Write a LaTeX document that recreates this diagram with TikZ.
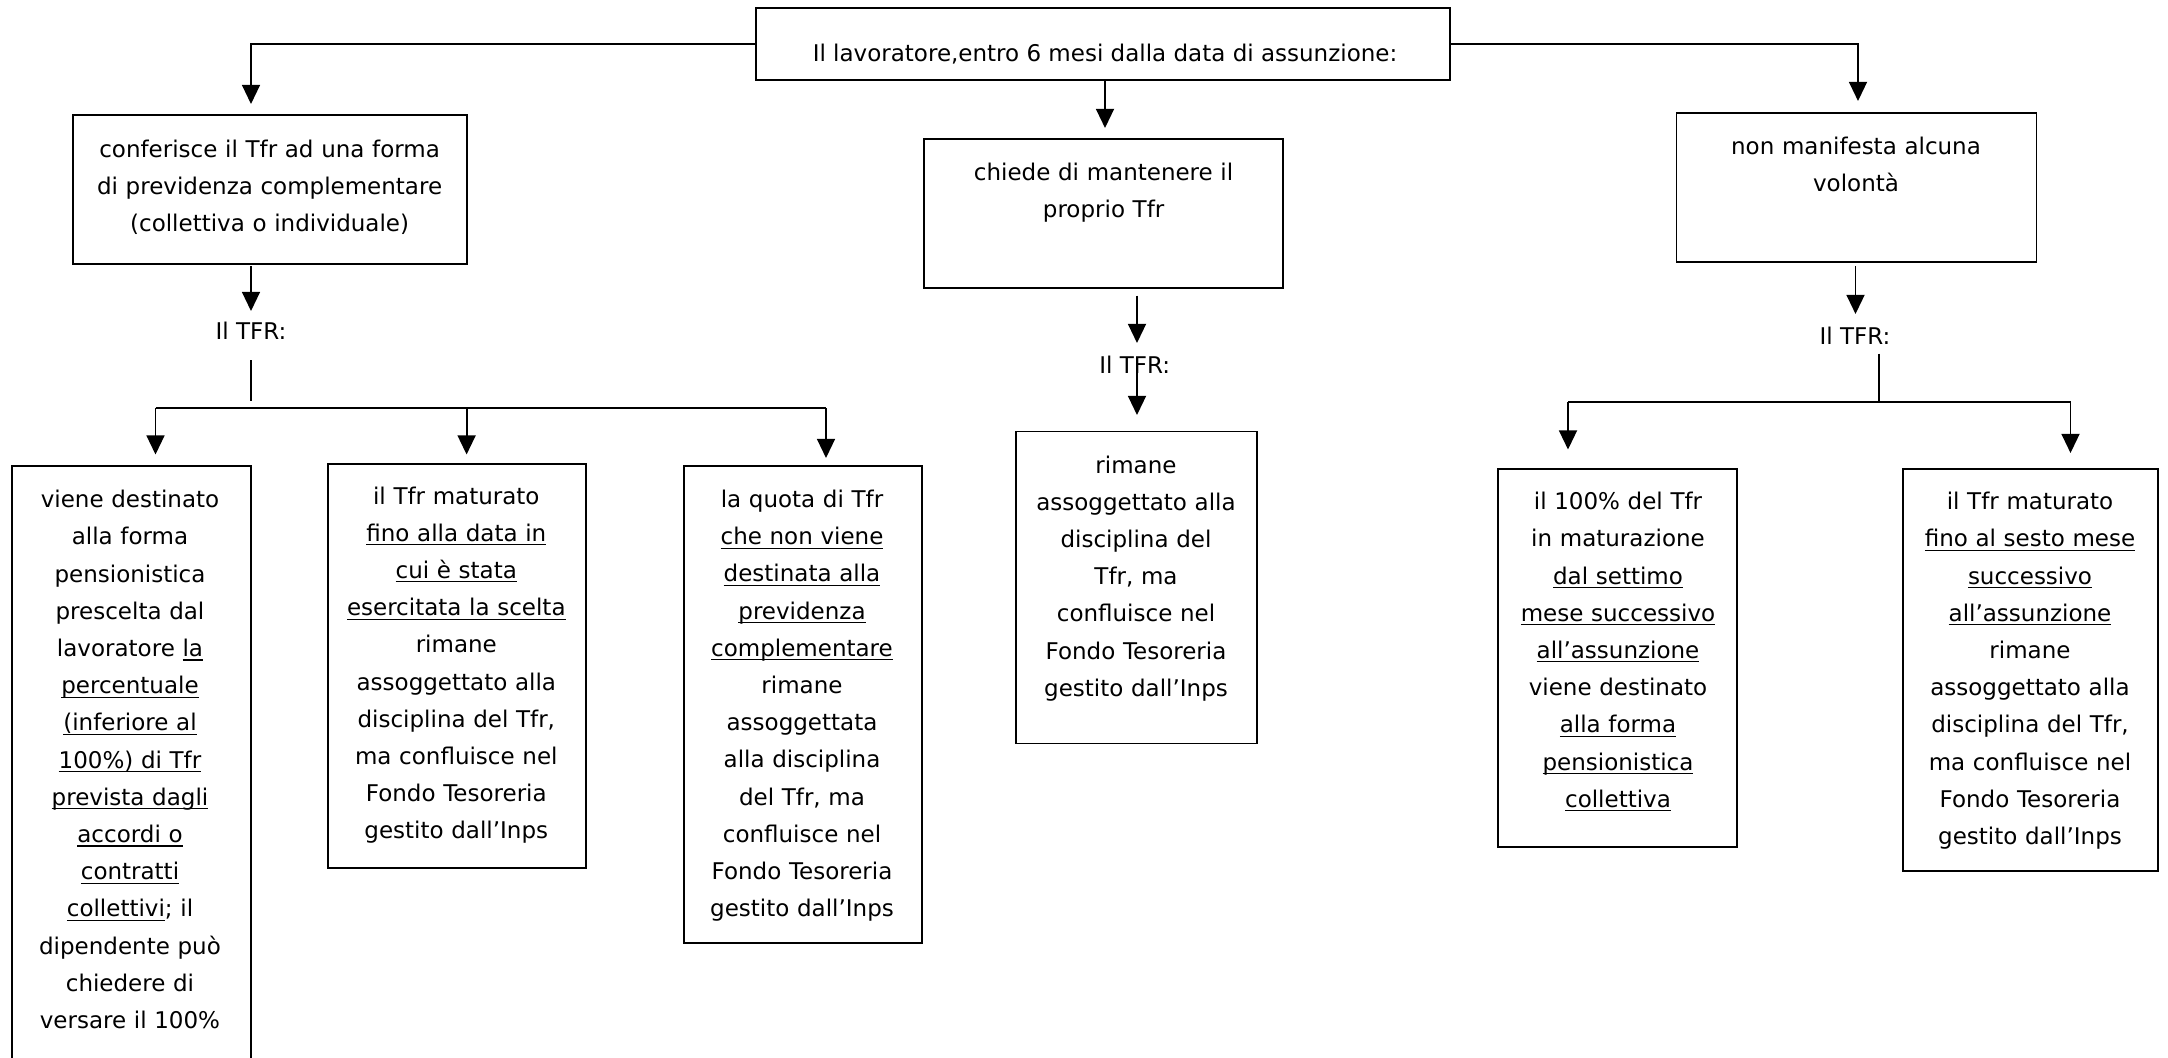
\documentclass[tikz,border=0pt]{standalone}
\usepackage{fontspec}
\setmainfont{DejaVu Sans}
\usetikzlibrary{arrows.meta}
\newcommand\fs{\fontsize{11.5}{18.6}\selectfont}
\newcommand\myul[1]{\leavevmode\setbox0\hbox{#1}\rlap{\rule[-2pt]{\wd0}{0.55pt}}\box0}
\tikzset{
  bx/.style 2 args={draw, line width=0.95pt, inner sep=0pt, minimum width=#1*0.5pt, minimum height=#2*0.5pt},
  txt/.style={inner sep=0pt, font=\fs, anchor=base},
  mtxt/.style={txt, text width=230pt, align=center},
  arr/.style={line width=0.9pt, -{Triangle[length=9.6pt,width=9pt]}},
  ln/.style={line width=0.9pt},
}
\begin{document}
\begin{tikzpicture}[x=0.5pt,y=-0.5pt]
\useasboundingbox (0,0) rectangle (2168,1057);
\clip (0,0) rectangle (2168,1057);
\fill[white] (0,0) rectangle (2168,1057);

% boxes
\node[bx={694}{72}] (top) at (1103,44) {};
\node[bx={394}{149}] (A) at (269.6,189.5) {};
\node[bx={359.4}{149}] (M) at (1103.3,213.5) {};
\node[bx={360}{149.2}] (R) at (1856.5,187.4) {};
\node[bx={239.2}{620}] (B1) at (131.4,776) {};
\node[bx={258.3}{404.3}] (B2) at (456.9,665.9) {};
\node[bx={237.5}{476.5}] (B3) at (802.8,704.3) {};
\node[bx={240.6}{312}] (M2) at (1136.7,587.5) {};
\node[bx={239.4}{378}] (R1) at (1617.7,658) {};
\node[bx={255.2}{401.5}] (R2) at (2030.4,669.8) {};

% texts
\node[txt] (tTop) at (1105,61) {Il lavoratore,entro 6 mesi dalla data di assunzione:};
\node[mtxt] (tA) at (269.6,157) {conferisce il Tfr ad una forma\\di previdenza complementare\\(collettiva o individuale)};
\node[mtxt] (tM) at (1103.6,180.4) {chiede di mantenere il\\proprio Tfr};
\node[mtxt] (tR) at (1856,154) {non manifesta alcuna\\volontà};
\node[txt] (l1) at (251,339.3) {Il TFR:};
\node[txt] (l2) at (1134.7,373) {Il TFR:};
\node[txt] (l3) at (1855,344) {Il TFR:};
\node[mtxt] (tB1) at (130,507.7) {viene destinato\\alla forma\\pensionistica\\prescelta dal\\lavoratore \myul{la}\\\myul{percentuale}\\\myul{(inferiore al}\\\myul{100\%) di Tfr}\\\myul{prevista dagli}\\\myul{accordi o}\\\myul{contratti}\\\myul{collettivi}; il\\dipendente può\\chiedere di\\versare il 100\%};
\node[mtxt] (tB2) at (456.3,504) {il Tfr maturato\\\myul{fino alla data in}\\\myul{cui è stata}\\\myul{esercitata la scelta}\\rimane\\assoggettato alla\\disciplina del Tfr,\\ma confluisce nel\\Fondo Tesoreria\\gestito dall’Inps};
\node[mtxt] (tB3) at (802,507.5) {la quota di Tfr\\\myul{che non viene}\\\myul{destinata alla}\\\myul{previdenza}\\\myul{complementare}\\rimane\\assoggettata\\alla disciplina\\del Tfr, ma\\confluisce nel\\Fondo Tesoreria\\gestito dall’Inps};
\node[mtxt] (tM2) at (1136,473) {rimane\\assoggettato alla\\disciplina del\\Tfr, ma\\confluisce nel\\Fondo Tesoreria\\gestito dall’Inps};
\node[mtxt] (tR1) at (1618,509.6) {il 100\% del Tfr\\in maturazione\\\myul{dal settimo}\\\myul{mese successivo}\\\myul{all’assunzione}\\viene destinato\\\myul{alla forma}\\\myul{pensionistica}\\\myul{collettiva}};
\node[mtxt] (tR2) at (2030,509.6) {il Tfr maturato\\\myul{fino al sesto mese}\\\myul{successivo}\\\myul{all’assunzione}\\rimane\\assoggettato alla\\disciplina del Tfr,\\ma confluisce nel\\Fondo Tesoreria\\gestito dall’Inps};

% coordinates
\coordinate (cA) at (251,104);
\coordinate (cR) at (1858,101);
\coordinate (cM) at (1105,128);
\coordinate (a1s) at (251,266);
\coordinate (a1e) at (251,311);
\coordinate (j1s) at (251,360);
\coordinate (j1e) at (251,401);
\coordinate (b1L) at (155.5,408);
\coordinate (b1M) at (466.6,408);
\coordinate (b1R) at (826,408);
\coordinate (tp1) at (155.5,454.5);
\coordinate (tp2) at (466.6,454.5);
\coordinate (tp3) at (826,458);
\coordinate (m1s) at (1137,295.6);
\coordinate (m1e) at (1137,343);
\coordinate (m2s) at (1137,368);
\coordinate (m2e) at (1137,415);
\coordinate (r1s) at (1855.5,266);
\coordinate (r1e) at (1855.5,314);
\coordinate (j3s) at (1879,353.5);
\coordinate (j3e) at (1879,402);
\coordinate (b3L) at (1568,402);
\coordinate (b3R) at (2070.5,402);
\coordinate (tp4) at (1568,449.5);
\coordinate (tp5) at (2070.5,453);

% connectors
\draw[arr] (top.west) -| (cA);
\draw[arr] (top.east) -| (cR);
\draw[arr] (cM |- top.south) -- (cM);
\draw[arr] (a1s) -- (a1e);
\draw[ln] (j1s) -- (j1e);
\draw[ln] (b1L) -- (b1R);
\draw[arr] (b1L) -- (tp1);
\draw[arr] (b1M) -- (tp2);
\draw[arr] (b1R) -- (tp3);
\draw[arr] (m1s) -- (m1e);
\draw[arr] (m2s) -- (m2e);
\draw[arr] (r1s) -- (r1e);
\draw[ln] (j3s) -- (j3e);
\draw[ln] (b3L) -- (b3R);
\draw[arr] (b3L) -- (tp4);
\draw[arr] (b3R) -- (tp5);
\end{tikzpicture}
\end{document}
